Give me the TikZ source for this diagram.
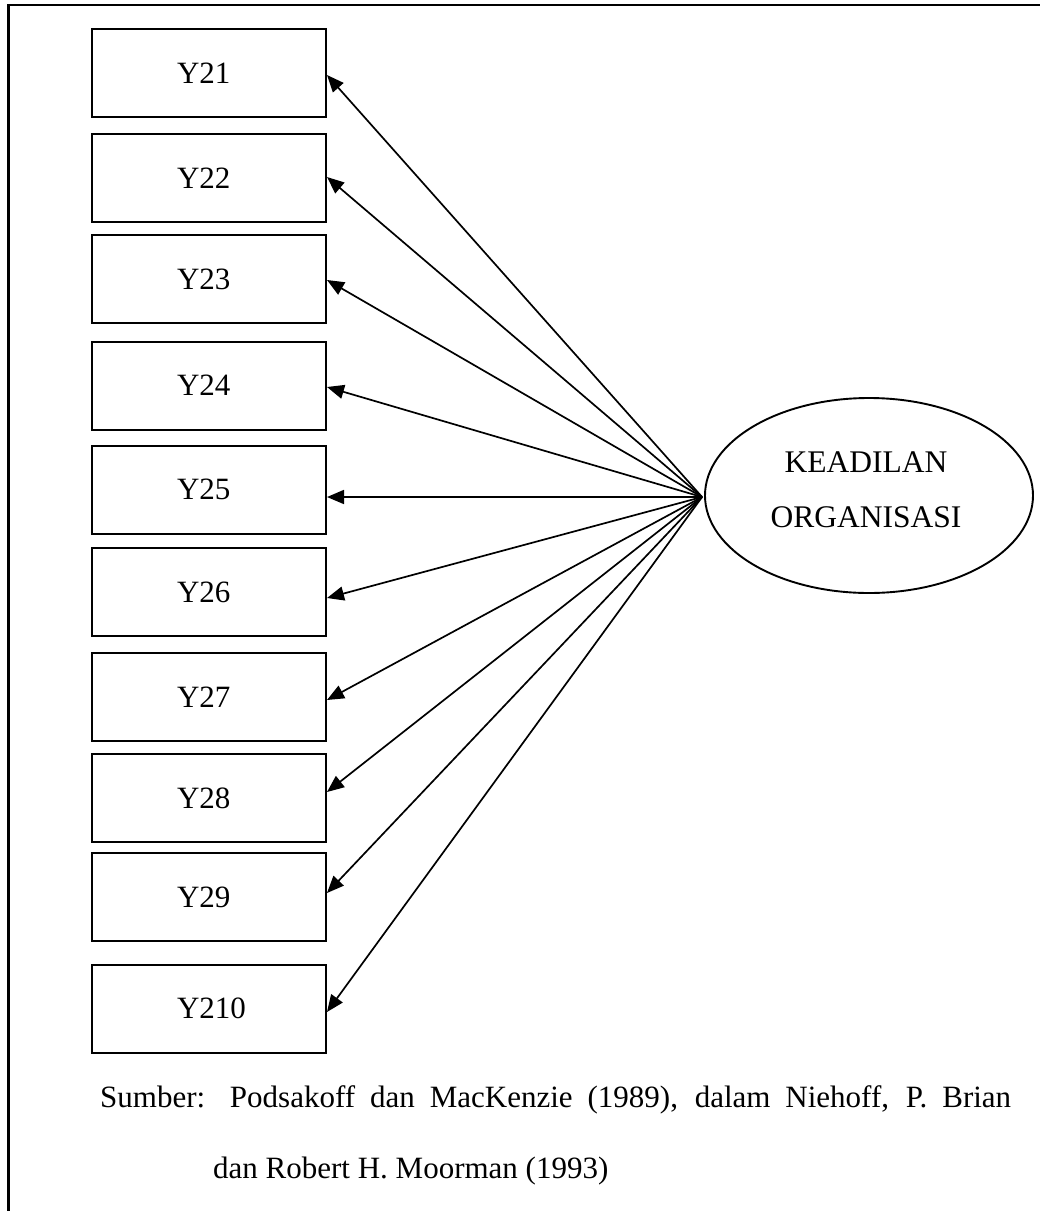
\documentclass[tikz,border=0pt]{standalone}
\usepackage{fontspec}
\setmainfont{Liberation Serif}
\usetikzlibrary{shapes.geometric,arrows.meta}
\begin{document}
\begin{tikzpicture}[x=1pt,y=-1pt,
  indicator/.style={draw, line width=2pt, minimum width=234pt, minimum height=88pt,
    text width=64pt, align=left, inner xsep=0pt, font=\fontsize{31}{36}\selectfont},
  construct/.style={draw, ellipse, line width=1.9pt, minimum width=328pt,
    minimum height=195pt, inner sep=0pt},
  bigtext/.style={font=\fontsize{31.5}{55}\selectfont, align=center, inner sep=0pt},
  link/.style={line width=1.7pt, -{Triangle[length=17pt,width=14pt]}}]
\useasboundingbox (0,0) rectangle (1040,1211);

% open frame (left and top edges)
\draw[line width=2.6pt] (8.5,1215) -- (8.5,5) -- (1045,5);

% indicators
\node[indicator] (y21)  at (209,73)    {Y21};
\node[indicator] (y22)  at (209,178)   {Y22};
\node[indicator] (y23)  at (209,279)   {Y23};
\node[indicator] (y24)  at (209,385.5) {Y24};
\node[indicator] (y25)  at (209,489.5) {Y25};
\node[indicator] (y26)  at (209,592)   {Y26};
\node[indicator] (y27)  at (209,697)   {Y27};
\node[indicator] (y28)  at (209,798)   {Y28};
\node[indicator] (y29)  at (209,897)   {Y29};
\node[indicator] (y210) at (209,1008.5) {Y210};

% latent construct
\node[construct] (ko) at (869,495.5) {};
\node[bigtext] (kotext) at (866,489.5) {KEADILAN\\ORGANISASI};
\coordinate (hub) at ([xshift=-2pt,yshift=-1.5pt]ko.west);

% loadings
\draw[link] (hub) -- ([yshift=-2pt]y21.east);
\draw[link] (hub) -- ([yshift=1pt]y22.east);
\draw[link] (hub) -- ([yshift=-1pt]y23.east);
\draw[link] (hub) -- ([yshift=-1.5pt]y24.east);
\draw[link] (hub) -- (hub -| y25.east);
\draw[link] (hub) -- ([yshift=-6pt]y26.east);
\draw[link] (hub) -- ([yshift=-3pt]y27.east);
\draw[link] (hub) -- ([yshift=6pt]y28.east);
\draw[link] (hub) -- ([yshift=4pt]y29.east);
\draw[link] (hub) -- ([yshift=-3.5pt]y210.east);

% source note
\node[anchor=base west, inner sep=0pt, font=\fontsize{31}{36}\selectfont] (src1) at (100,1107)
  {\makebox[911pt][s]{Sumber: Podsakoff dan MacKenzie (1989), dalam Niehoff, P. Brian}};
\node[anchor=base west, inner sep=0pt, font=\fontsize{31}{36}\selectfont] (src2) at (213,1178)
  {dan Robert H. Moorman (1993)};
\end{tikzpicture}
\end{document}
